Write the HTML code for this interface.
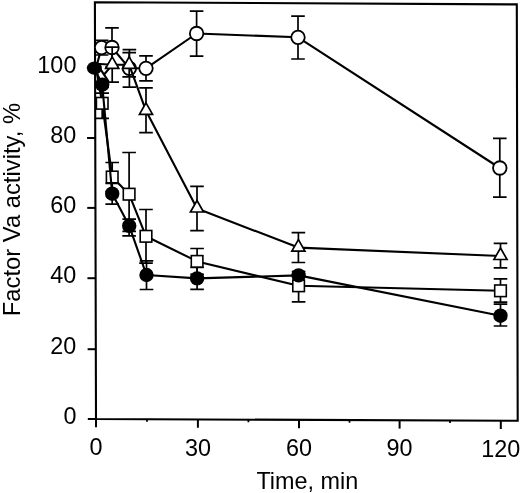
<!DOCTYPE html>
<html><head><meta charset="utf-8"><style>
html,body{margin:0;padding:0;background:#fff;}
body{width:520px;height:493px;overflow:hidden;font-family:"Liberation Sans",sans-serif;}
svg{display:block;}
svg{will-change:transform;}
</style></head><body>
<svg width="520" height="493" viewBox="0 0 520 493">
<path d="M94.9 2.2L516.8 4.4L517.7 420.8L96 419Z" fill="none" stroke="#000" stroke-width="2.1" stroke-linejoin="miter"/>
<path d="M96 419V427.3" stroke="#000" stroke-width="2"/>
<path d="M197.9 419.43V427.73" stroke="#000" stroke-width="2"/>
<path d="M299 419.87V428.17" stroke="#000" stroke-width="2"/>
<path d="M399.6 420.3V428.6" stroke="#000" stroke-width="2"/>
<path d="M500.8 420.73V429.03" stroke="#000" stroke-width="2"/>
<path d="M147 419.22V421.82" stroke="#000" stroke-width="1.8"/>
<path d="M248.4 419.65V422.25" stroke="#000" stroke-width="1.8"/>
<path d="M349.5 420.08V422.68" stroke="#000" stroke-width="1.8"/>
<path d="M450 420.51V423.11" stroke="#000" stroke-width="1.8"/>
<path d="M96 419H87.8" stroke="#000" stroke-width="2"/>
<path d="M95.82 349.2H87.62" stroke="#000" stroke-width="2"/>
<path d="M95.63 278.2H87.43" stroke="#000" stroke-width="2"/>
<path d="M95.44 207.9H87.24" stroke="#000" stroke-width="2"/>
<path d="M95.26 138H87.06" stroke="#000" stroke-width="2"/>
<path d="M95.07 67.8H86.87" stroke="#000" stroke-width="2"/>
<polyline points="96,68 101.6,47.6 112,47.5 129.4,68.3 146,68.3 196.6,33.5 298,37.3 499.8,168" fill="none" stroke="#000" stroke-width="2.1" stroke-linejoin="round"/>
<path d="M101.6 47.6V40.3M94.8 40.3H108.4" stroke="#000" stroke-width="1.7" fill="none"/>
<path d="M101.6 47.6V55M94.8 55H108.4" stroke="#000" stroke-width="1.7" fill="none"/>
<path d="M112 47.5V27.8M105.2 27.8H118.8" stroke="#000" stroke-width="1.7" fill="none"/>
<path d="M112 47.5V67.2M105.2 67.2H118.8" stroke="#000" stroke-width="1.7" fill="none"/>
<path d="M129.4 68.3V49.6M122.6 49.6H136.2" stroke="#000" stroke-width="1.7" fill="none"/>
<path d="M129.4 68.3V87.1M122.6 87.1H136.2" stroke="#000" stroke-width="1.7" fill="none"/>
<path d="M146 68.3V55.8M139.2 55.8H152.8" stroke="#000" stroke-width="1.7" fill="none"/>
<path d="M146 68.3V80.8M139.2 80.8H152.8" stroke="#000" stroke-width="1.7" fill="none"/>
<path d="M196.6 33.5V11.2M189.8 11.2H203.4" stroke="#000" stroke-width="1.7" fill="none"/>
<path d="M196.6 33.5V56.2M189.8 56.2H203.4" stroke="#000" stroke-width="1.7" fill="none"/>
<path d="M298 37.3V16.2M291.2 16.2H304.8" stroke="#000" stroke-width="1.7" fill="none"/>
<path d="M298 37.3V59M291.2 59H304.8" stroke="#000" stroke-width="1.7" fill="none"/>
<path d="M499.8 168V138.3M493 138.3H506.6" stroke="#000" stroke-width="1.7" fill="none"/>
<path d="M499.8 168V197.2M493 197.2H506.6" stroke="#000" stroke-width="1.7" fill="none"/>
<circle cx="101.6" cy="47.6" r="6.75" fill="#fff" stroke="#000" stroke-width="1.8"/>
<circle cx="112" cy="47.5" r="6.75" fill="#fff" stroke="#000" stroke-width="1.8"/>
<circle cx="129.4" cy="68.3" r="6.75" fill="#fff" stroke="#000" stroke-width="1.8"/>
<circle cx="146" cy="68.3" r="6.75" fill="#fff" stroke="#000" stroke-width="1.8"/>
<circle cx="196.6" cy="33.5" r="6.75" fill="#fff" stroke="#000" stroke-width="1.8"/>
<circle cx="298" cy="37.3" r="6.75" fill="#fff" stroke="#000" stroke-width="1.8"/>
<circle cx="499.8" cy="168" r="6.75" fill="#fff" stroke="#000" stroke-width="1.8"/>
<polyline points="96,63.8 112.2,64.8 129.2,64.8 146,110.8 197,208.5 298.4,247.6 500.5,256" fill="none" stroke="#000" stroke-width="2.1" stroke-linejoin="round"/>
<path d="M97.5 64.6L108.6 81.6M104.1 74.5L112.2 64.8" stroke="#000" stroke-width="2.1" fill="none"/>
<path d="M112.2 64.8V47.1M105.4 47.1H119" stroke="#000" stroke-width="1.7" fill="none"/>
<path d="M112.2 64.8V82.1M105.4 82.1H119" stroke="#000" stroke-width="1.7" fill="none"/>
<path d="M129.2 64.8V52.6M122.4 52.6H136" stroke="#000" stroke-width="1.7" fill="none"/>
<path d="M129.2 64.8V76.9M122.4 76.9H136" stroke="#000" stroke-width="1.7" fill="none"/>
<path d="M146 110.8V87.9M139.2 87.9H152.8" stroke="#000" stroke-width="1.7" fill="none"/>
<path d="M146 110.8V132.6M139.2 132.6H152.8" stroke="#000" stroke-width="1.7" fill="none"/>
<path d="M197 208.5V186.3M190.2 186.3H203.8" stroke="#000" stroke-width="1.7" fill="none"/>
<path d="M197 208.5V230.7M190.2 230.7H203.8" stroke="#000" stroke-width="1.7" fill="none"/>
<path d="M298.4 247.6V232.6M291.6 232.6H305.2" stroke="#000" stroke-width="1.7" fill="none"/>
<path d="M298.4 247.6V262.5M291.6 262.5H305.2" stroke="#000" stroke-width="1.7" fill="none"/>
<path d="M500.5 256V243.3M493.7 243.3H507.3" stroke="#000" stroke-width="1.7" fill="none"/>
<path d="M500.5 256V267.9M493.7 267.9H507.3" stroke="#000" stroke-width="1.7" fill="none"/>
<path d="M112.2 56.8L118.75 68.3L105.65 68.3Z" fill="#fff" stroke="#000" stroke-width="1.7" stroke-linejoin="miter"/>
<path d="M129.2 56.8L135.75 68.3L122.65 68.3Z" fill="#fff" stroke="#000" stroke-width="1.7" stroke-linejoin="miter"/>
<path d="M146 102.8L152.55 114.3L139.45 114.3Z" fill="#fff" stroke="#000" stroke-width="1.7" stroke-linejoin="miter"/>
<path d="M197 200.5L203.55 212L190.45 212Z" fill="#fff" stroke="#000" stroke-width="1.7" stroke-linejoin="miter"/>
<path d="M298.4 239.6L304.95 251.1L291.85 251.1Z" fill="#fff" stroke="#000" stroke-width="1.7" stroke-linejoin="miter"/>
<path d="M500.5 248L507.05 259.5L493.95 259.5Z" fill="#fff" stroke="#000" stroke-width="1.7" stroke-linejoin="miter"/>
<polyline points="96,67.8 102.2,103.3 112.2,177 129.1,194.2 146,236.3 197.1,261.4 298.6,285.8 500.5,290.8" fill="none" stroke="#000" stroke-width="2.1" stroke-linejoin="round"/>
<path d="M102.2 103.3V87.5M95.4 87.5H109" stroke="#000" stroke-width="1.7" fill="none"/>
<path d="M102.2 103.3V118.3M95.4 118.3H109" stroke="#000" stroke-width="1.7" fill="none"/>
<path d="M112.2 177V162.5M105.4 162.5H119" stroke="#000" stroke-width="1.7" fill="none"/>
<path d="M112.2 177V191.5M105.4 191.5H119" stroke="#000" stroke-width="1.7" fill="none"/>
<path d="M129.1 194.2V152.5M122.3 152.5H135.9" stroke="#000" stroke-width="1.7" fill="none"/>
<path d="M129.1 194.2V235.9M122.3 235.9H135.9" stroke="#000" stroke-width="1.7" fill="none"/>
<path d="M146 236.3V209.5M139.2 209.5H152.8" stroke="#000" stroke-width="1.7" fill="none"/>
<path d="M146 236.3V263.1M139.2 263.1H152.8" stroke="#000" stroke-width="1.7" fill="none"/>
<path d="M197.1 261.4V248.5M190.3 248.5H203.9" stroke="#000" stroke-width="1.7" fill="none"/>
<path d="M197.1 261.4V274.3M190.3 274.3H203.9" stroke="#000" stroke-width="1.7" fill="none"/>
<path d="M298.6 285.8V271.5M291.8 271.5H305.4" stroke="#000" stroke-width="1.7" fill="none"/>
<path d="M298.6 285.8V301.8M291.8 301.8H305.4" stroke="#000" stroke-width="1.7" fill="none"/>
<path d="M500.5 290.8V278.8M493.7 278.8H507.3" stroke="#000" stroke-width="1.7" fill="none"/>
<path d="M500.5 290.8V302.2M493.7 302.2H507.3" stroke="#000" stroke-width="1.7" fill="none"/>
<rect x="96.4" y="97.5" width="11.6" height="11.6" fill="#fff" stroke="#000" stroke-width="1.6"/>
<rect x="106.4" y="171.2" width="11.6" height="11.6" fill="#fff" stroke="#000" stroke-width="1.6"/>
<rect x="123.3" y="188.4" width="11.6" height="11.6" fill="#fff" stroke="#000" stroke-width="1.6"/>
<rect x="140.2" y="230.5" width="11.6" height="11.6" fill="#fff" stroke="#000" stroke-width="1.6"/>
<rect x="191.3" y="255.6" width="11.6" height="11.6" fill="#fff" stroke="#000" stroke-width="1.6"/>
<rect x="292.8" y="280" width="11.6" height="11.6" fill="#fff" stroke="#000" stroke-width="1.6"/>
<rect x="494.7" y="285" width="11.6" height="11.6" fill="#fff" stroke="#000" stroke-width="1.6"/>
<polyline points="94.6,68.3 102.2,84.6 112.2,193.7 129.2,225.8 146.5,275 197.1,278.4 298.6,275.4 500.5,315.7" fill="none" stroke="#000" stroke-width="2.1" stroke-linejoin="round"/>
<path d="M102.2 84.6V93.1M95.4 93.1H109" stroke="#000" stroke-width="1.7" fill="none"/>
<path d="M112.2 193.7V183.3M105.4 183.3H119" stroke="#000" stroke-width="1.7" fill="none"/>
<path d="M112.2 193.7V204.1M105.4 204.1H119" stroke="#000" stroke-width="1.7" fill="none"/>
<path d="M129.2 225.8V219.2M122.4 219.2H136" stroke="#000" stroke-width="1.7" fill="none"/>
<path d="M129.2 225.8V231.3M122.4 231.3H136" stroke="#000" stroke-width="1.7" fill="none"/>
<path d="M146.5 275V260.8M139.7 260.8H153.3" stroke="#000" stroke-width="1.7" fill="none"/>
<path d="M146.5 275V289.5M139.7 289.5H153.3" stroke="#000" stroke-width="1.7" fill="none"/>
<path d="M197.1 278.4V267.5M190.3 267.5H203.9" stroke="#000" stroke-width="1.7" fill="none"/>
<path d="M197.1 278.4V289.3M190.3 289.3H203.9" stroke="#000" stroke-width="1.7" fill="none"/>
<path d="M500.5 315.7V304.2M493.7 304.2H507.3" stroke="#000" stroke-width="1.7" fill="none"/>
<path d="M500.5 315.7V326M493.7 326H507.3" stroke="#000" stroke-width="1.7" fill="none"/>
<ellipse cx="94.4" cy="68.1" rx="7.5" ry="6.6" fill="#000"/>
<circle cx="102.2" cy="84.6" r="7.2" fill="#000"/>
<circle cx="112.2" cy="193.7" r="7.2" fill="#000"/>
<circle cx="129.2" cy="225.8" r="7.2" fill="#000"/>
<circle cx="146.5" cy="275" r="7.2" fill="#000"/>
<circle cx="197.1" cy="278.4" r="7.2" fill="#000"/>
<circle cx="298.6" cy="275.4" r="7.2" fill="#000"/>
<circle cx="500.5" cy="315.7" r="7.2" fill="#000"/>
<g font-family="Liberation Sans, sans-serif" font-size="23.4" fill="#000"><text x="76.4" y="72.7" text-anchor="end">100</text>
<text x="76.4" y="143" text-anchor="end">80</text>
<text x="76.4" y="213" text-anchor="end">60</text>
<text x="76.4" y="283.4" text-anchor="end">40</text>
<text x="76.4" y="354.2" text-anchor="end">20</text>
<text x="76.4" y="424.2" text-anchor="end">0</text>
<text x="96.1" y="454.9" text-anchor="middle">0</text>
<text x="197.9" y="455.5" text-anchor="middle">30</text>
<text x="299" y="455.9" text-anchor="middle">60</text>
<text x="399.6" y="456.3" text-anchor="middle">90</text>
<text x="500.8" y="456.7" text-anchor="middle">120</text>
<text x="307.3" y="489.0" text-anchor="middle">Time, min</text>
<text transform="translate(19.9 209.6) rotate(-90)" text-anchor="middle" font-size="23.8">Factor Va activity, %</text></g>
</svg>
</body></html>
